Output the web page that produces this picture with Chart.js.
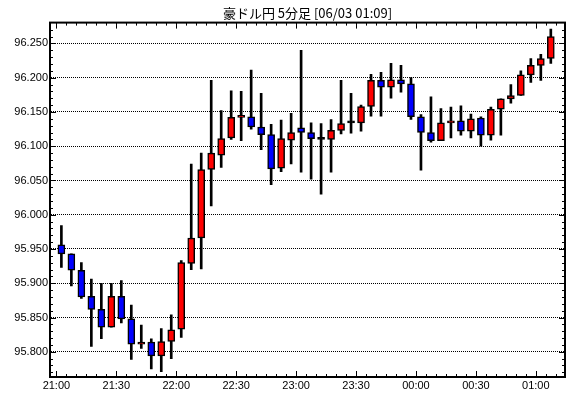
<!DOCTYPE html>
<html>
<head>
<meta charset="utf-8">
<script src="https://cdn.jsdelivr.net/npm/chart.js@4/dist/chart.umd.min.js"></script>
<style>
html,body{margin:0;padding:0;background:#fff;}
#wrap{width:570px;height:398px;}
</style>
</head>
<body>
<div id="wrap"><canvas id="c" width="570" height="398"></canvas></div>
<script>
const chartTitle = '豪ドル円 5分足 [06/03 01:09]';
const times = ['21:00','21:05','21:10','21:15','21:20','21:25','21:30','21:35','21:40','21:45',
  '21:50','21:55','22:00','22:05','22:10','22:15','22:20','22:25','22:30','22:35',
  '22:40','22:45','22:50','22:55','23:00','23:05','23:10','23:15','23:20','23:25',
  '23:30','23:35','23:40','23:45','23:50','23:55','00:00','00:05','00:10','00:15',
  '00:20','00:25','00:30','00:35','00:40','00:45','00:50','00:55','01:00','01:05'];
const opens = [95.956,95.943,95.919,95.881,95.862,95.836,95.881,95.848,95.811,95.814,
  95.794,95.815,95.833,95.929,95.966,96.066,96.087,96.112,96.142,96.143,
  96.128,96.117,96.068,96.109,96.127,96.120,96.110,96.110,96.123,96.134,
  96.134,96.158,96.196,96.186,96.197,96.191,96.143,96.120,96.108,96.134,
  96.137,96.122,96.141,96.116,96.154,96.169,96.174,96.204,96.218,96.228];
const highs = [95.984,95.943,95.930,95.906,95.900,95.900,95.904,95.868,95.839,95.819,
  95.834,95.854,95.933,96.074,96.090,96.196,96.152,96.181,96.180,96.211,
  96.177,96.132,96.138,96.148,96.240,96.134,96.133,96.139,96.196,96.177,
  96.160,96.205,96.208,96.221,96.218,96.200,96.146,96.172,96.155,96.157,
  96.159,96.147,96.143,96.157,96.169,96.190,96.210,96.228,96.234,96.271];
const lows = [95.923,95.896,95.878,95.808,95.819,95.836,95.842,95.789,95.805,95.775,
  95.771,95.790,95.821,95.920,95.921,96.013,96.069,96.110,96.108,96.125,
  96.095,96.044,96.063,96.074,96.062,96.052,96.030,96.062,96.118,96.119,
  96.122,96.144,96.144,96.170,96.179,96.139,96.065,96.106,96.108,96.112,
  96.116,96.112,96.100,96.109,96.116,96.163,96.174,96.193,96.196,96.221];
const closes = [95.943,95.919,95.880,95.862,95.836,95.881,95.848,95.811,95.814,95.794,
  95.815,95.832,95.930,95.966,96.066,96.090,96.111,96.142,96.144,96.128,
  96.117,96.067,96.111,96.120,96.120,96.111,96.110,96.123,96.133,96.134,
  96.158,96.196,96.186,96.197,96.191,96.143,96.120,96.108,96.134,96.137,
  96.122,96.140,96.116,96.154,96.169,96.174,96.204,96.218,96.228,96.260];
const xTickLabels = ['21:00','21:30','22:00','22:30','23:00','23:30','00:00','00:30','01:00'];
const yTickValues = [95.80,95.85,95.90,95.95,96.00,96.05,96.10,96.15,96.20,96.25];

// minutes since 21:00
function toMin(s){const p=s.split(':');let h=+p[0],m=+p[1];if(h<21)h+=24;return (h-21)*60+m;}
const candleX = times.map(t => toMin(t) + 2.5); // candle drawn at middle of its 5-minute period
const xTickValues = xTickLabels.map(toMin);

const wickData = times.map((t,i)=>({x:candleX[i], y:[lows[i],highs[i]]}));
const bodyData = times.map((t,i)=>({x:candleX[i], y:[Math.min(opens[i],closes[i]),Math.max(opens[i],closes[i])]}));
const bodyColors = times.map((t,i)=> closes[i]>opens[i] ? '#ff0000' : (closes[i]<opens[i] ? '#0000ff' : '#000000'));

const font11 = {family:'"Liberation Sans", Arial, sans-serif', size:11};

const framePlugin = {
  id:'frame',
  afterDraw(chart){
    const ctx = chart.ctx, a = chart.chartArea;
    const xs = chart.scales.x, ys = chart.scales.y;
    ctx.save();
    ctx.strokeStyle = '#000';
    ctx.lineWidth = 1;
    ctx.beginPath();
    for (let m = 0; m <= 255; m += 5) {
      const px = Math.round(xs.getPixelForValue(m)) + 0.5;
      if (px < a.left + 1 || px > a.right - 1) continue;
      const len = (m % 30 === 0) ? 6 : 3;
      ctx.moveTo(px, a.bottom); ctx.lineTo(px, a.bottom - len);
      ctx.moveTo(px, a.top); ctx.lineTo(px, a.top + len);
    }
    for (let k = 9577; k <= 9628; k++) {
      const v = k / 100;
      const py = Math.round(ys.getPixelForValue(v)) + 0.5;
      if (py < a.top + 1 || py > a.bottom - 1) continue;
      const len = (k % 5 === 0) ? 6 : 3;
      ctx.moveTo(a.left, py); ctx.lineTo(a.left + len, py);
      ctx.moveTo(a.right, py); ctx.lineTo(a.right - len, py);
    }
    ctx.stroke();
    ctx.lineWidth = 2;
    ctx.strokeRect(a.left, a.top, a.right - a.left, a.bottom - a.top);
    ctx.restore();
  }
};

new Chart(document.getElementById('c'), {
  type:'bar',
  data:{
    datasets:[
      {label:'wick', data:wickData, backgroundColor:'#000', borderWidth:0, barThickness:2, grouped:false, order:2},
      {label:'body', data:bodyData, backgroundColor:bodyColors, borderColor:'#000', borderWidth:1.5,
       borderSkipped:false, barThickness:7, minBarLength:2, grouped:false, order:1}
    ]
  },
  options:{
    responsive:false,
    animation:false,
    events:[],
    layout:{padding:{left:0,right:5,top:0,bottom:0}},
    plugins:{
      legend:{display:false},
      tooltip:{enabled:false},
      title:{display:true, text:chartTitle, fullSize:false, color:'#000',
        font:{family:'"Noto Sans CJK JP", sans-serif', size:13, weight:'normal'},
        padding:{top:5,bottom:2}}
    },
    scales:{
      x:{
        type:'linear', min:-3.2, max:254.6, offset:false,
        afterBuildTicks:s=>{s.ticks = xTickValues.map(v=>({value:v}));},
        afterFit:s=>{s.height = 21;},
        ticks:{callback:(v,i)=>xTickLabels[i], autoSkip:false, maxRotation:0, font:font11, color:'#000', padding:2},
        grid:{display:false, drawTicks:false, offset:false},
        border:{display:true, color:'#000', width:2}
      },
      y:{
        type:'linear', min:95.7632, max:96.2804,
        afterBuildTicks:s=>{s.ticks = yTickValues.map(v=>({value:v}));},
        afterFit:s=>{s.width = 50;},
        ticks:{callback:v=>v.toFixed(3), font:font11, color:'#000', padding:2},
        grid:{color:'#000', lineWidth:1, drawTicks:false, tickLength:0},
        border:{display:true, color:'#000', width:2, dash:[1,1]}
      }
    }
  },
  plugins:[framePlugin]
});
</script>
</body>
</html>
